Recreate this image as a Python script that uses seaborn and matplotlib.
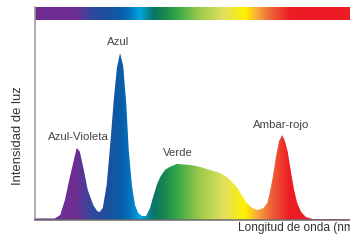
import numpy as np
import pandas as pd
import matplotlib
matplotlib.use("Agg")
import matplotlib.pyplot as plt
from matplotlib.colors import LinearSegmentedColormap, Normalize
import seaborn as sns

# Spectrum (wavelength in nm, relative intensity 0-100)
wavelength = [380, 405, 412, 418, 424, 430, 433, 437, 442, 447, 454, 459, 462, 466,
              471, 476, 480, 484, 488, 492, 496, 499, 503, 507, 511, 516, 521, 526,
              530, 535, 539, 545, 551, 560, 577, 590, 602, 615, 624, 630, 637, 643,
              649, 656, 663, 670, 675, 678, 682, 686, 690, 694, 697, 701, 705, 709,
              713, 718, 724, 733, 780]
intensity = [1.0, 1.0, 2.7, 10.2, 21.2, 31.2, 36.2, 34.2, 25.2, 15.2, 7.7, 4.7, 4.2, 6.2,
             17.7, 40.1, 60.1, 76.1, 83.5, 77.1, 57.6, 35.2, 17.7, 7.7, 3.7, 2.2, 2.2, 6.2,
             11.7, 18.2, 21.7, 25.2, 26.7, 28.2, 27.7, 26.7, 25.2, 23.7, 21.7, 19.2, 16.2, 12.2,
             8.7, 6.2, 5.2, 6.2, 8.7, 13.7, 21.7, 31.7, 39.7, 42.6, 40.1, 34.2, 24.2, 15.2,
             8.7, 4.2, 1.7, 0.7, 0.7]

# colour stops of the spectrum bar
stop_nm = [380, 431, 452, 469, 488, 500, 513, 530, 545, 562, 590, 621, 647, 663, 678, 704, 780]
stop_colors = ["#6f2c91", "#6f2c91", "#2e4a9e", "#1f4e9c", "#0b5ca8", "#0072bc", "#00a6e0",
               "#0b7468", "#178a4c", "#3aaa48", "#9fcb4d", "#e2e05e", "#fff200", "#f8a83a",
               "#ef6b3a", "#ed1c24", "#ed1c24"]

peak_labels = ["Azul-Violeta", "Azul", "Verde", "Ambar-rojo"]
label_pos = [(435.6, 41.6), (485.1, 89.0), (561.0, 33.7), (692.4, 47.6)]

sns.set_theme(style="white")
plt.rcParams["font.family"] = ["Liberation Sans", "DejaVu Sans"]

wl_min, wl_max = 380, 780
cmap = LinearSegmentedColormap.from_list(
    "spectrum",
    [((w - wl_min) / (wl_max - wl_min), c) for w, c in zip(stop_nm, stop_colors)])
grad = np.linspace(wl_min, wl_max, 600).reshape(1, -1)

fig = plt.figure(figsize=(3.5, 2.41), dpi=100)
ax = fig.add_axes([0.1, 0.0851, 0.9, 0.832])
bar_ax = fig.add_axes([0.1, 0.917, 0.9, 0.052])

df = pd.DataFrame({"wavelength": wavelength, "intensity": intensity})
sns.lineplot(data=df, x="wavelength", y="intensity", ax=ax, linewidth=0)

poly = ax.fill_between(df["wavelength"], df["intensity"], 0, color="none", lw=0)
im = ax.imshow(grad, cmap=cmap, norm=Normalize(wl_min, wl_max), aspect="auto",
               extent=[wl_min, wl_max, 0, 100], interpolation="bilinear")
im.set_clip_path(poly.get_paths()[0], transform=ax.transData)

ax.set_xlim(wl_min, wl_max)
ax.set_ylim(0, 100)
ax.set_xticks([])
ax.set_yticks([])
sns.despine(ax=ax)
ax.spines["left"].set_color("#9a9a9a")
ax.spines["left"].set_linewidth(1.1)
ax.spines["bottom"].set_color("#6a6a6a")
ax.spines["bottom"].set_linewidth(1.1)
ax.set_xlabel("")
ax.set_ylabel("")

for txt, (x, y) in zip(peak_labels, label_pos):
    ax.text(x, y, txt, ha="center", va="center", fontsize=8.2, color="#444444")

fig.text(238 / 350, 1 - 228.5 / 241, "Longitud de onda (nm)", ha="left", va="center",
         fontsize=8.6, color="#333333")
fig.text(18.5 / 350, 1 - 135.5 / 241, "Intensidad de luz", ha="center", va="center",
         rotation=90, fontsize=9.4, color="#333333")

bar_ax.imshow(grad, cmap=cmap, norm=Normalize(wl_min, wl_max), aspect="auto",
              extent=[wl_min, wl_max, 0, 1], interpolation="bilinear")
bar_ax.set_xlim(wl_min, wl_max)
bar_ax.set_xticks([])
bar_ax.set_yticks([])
for s in ["top", "right", "bottom"]:
    bar_ax.spines[s].set_visible(False)
bar_ax.spines["left"].set_color("#9a9a9a")
bar_ax.spines["left"].set_linewidth(1.1)

fig.savefig("out.png", dpi=100)
